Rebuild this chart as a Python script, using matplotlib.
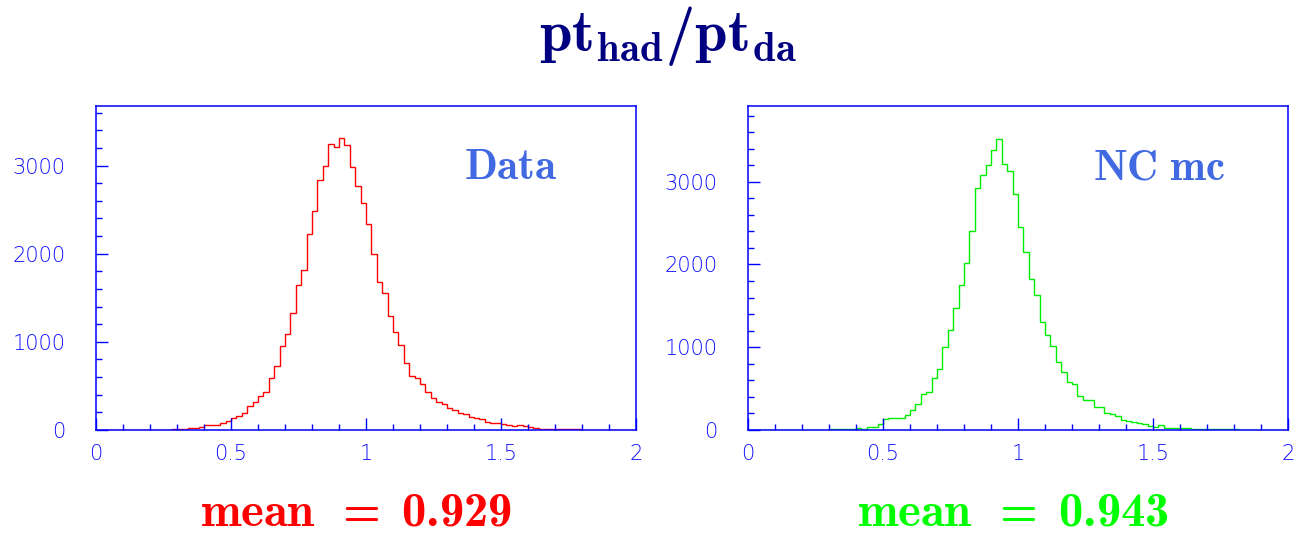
import numpy as np
import matplotlib
matplotlib.use("Agg")
import matplotlib.pyplot as plt
from matplotlib.ticker import MultipleLocator

plt.rcParams['mathtext.fontset'] = 'custom'
plt.rcParams['mathtext.rm'] = 'cmb10'
plt.rcParams['mathtext.bf'] = 'cmb10'
plt.rcParams['mathtext.it'] = 'cmb10'
plt.rcParams['mathtext.default'] = 'rm'

# ---------------- data ----------------
bin_edges = np.linspace(0.0, 2.0, 101)

data_counts = [
    0, 0, 0, 0, 0, 2, 2, 2, 2, 2,
    4, 4, 4, 4, 8, 8, 15, 20, 23, 34,
    53, 53, 53, 83, 100, 133, 159, 197, 277, 322,
    390, 428, 587, 731, 958, 1087, 1330, 1648, 1811, 2224,
    2481, 2841, 3000, 3239, 3212, 3307, 3231, 2985, 2765, 2572,
    2337, 2000, 1674, 1553, 1295, 1114, 966, 758, 614, 587,
    523, 436, 367, 314, 295, 246, 227, 189, 182, 152,
    133, 125, 95, 83, 76, 68, 53, 49, 53, 45,
    38, 23, 15, 15, 12, 10, 8, 8, 6, 6,
    5, 5, 4, 4, 3, 3, 3, 2, 2, 2,
]

mc_counts = [
    0, 0, 0, 0, 0, 0, 2, 2, 2, 2,
    3, 3, 4, 5, 6, 8, 8, 8, 8, 8,
    20, 12, 40, 40, 73, 129, 149, 141, 141, 182,
    242, 311, 432, 464, 634, 735, 1001, 1211, 1478, 1756,
    2019, 2402, 2927, 3084, 3205, 3383, 3520, 3218, 3125, 2850,
    2451, 2152, 1825, 1627, 1300, 1150, 1009, 820, 706, 585,
    553, 416, 363, 363, 274, 274, 202, 190, 174, 121,
    109, 93, 81, 69, 52, 40, 60, 24, 24, 24,
    30, 28, 15, 15, 15, 15, 15, 12, 12, 12,
    12, 6, 6, 6, 6, 6, 4, 4, 4, 4,
]

ylims = [3675, 3915]
y_major = [0, 1000, 2000, 3000]
x_major = [0, 0.5, 1, 1.5, 2]
x_major_labels = ["0", "0.5", "1", "1.5", "2"]

# ---------------- figure ----------------
W, H = 1306, 534
fig = plt.figure(figsize=(W / 100, H / 100), dpi=100)

axis_blue = '#0000ff'
tick_text = '#1010ff'
label_blue = '#4169e1'

def px_axes(x0, y0, x1, y1):
    return fig.add_axes([x0 / W, 1 - y1 / H, (x1 - x0) / W, (y1 - y0) / H])

axes = [px_axes(96, 106, 636, 430), px_axes(748, 106, 1288, 430)]
series = [(data_counts, '#ff0000'), (mc_counts, '#00ee00')]

for ax, (counts, col), ylim in zip(axes, series, ylims):
    ax.stairs(counts, bin_edges, color=col, lw=1.0, baseline=0)
    ax.set_xlim(0, 2)
    ax.set_ylim(0, ylim)
    for s in ax.spines.values():
        s.set_color(axis_blue)
        s.set_linewidth(1.1)
    ax.set_xticks(x_major)
    ax.set_xticklabels(x_major_labels)
    ax.set_yticks(y_major)
    ax.set_yticklabels([str(v) for v in y_major])
    ax.xaxis.set_minor_locator(MultipleLocator(0.1))
    ax.yaxis.set_minor_locator(MultipleLocator(200))
    ax.tick_params(axis='both', which='both', direction='in', color=axis_blue,
                   top=False, right=False, labelcolor=tick_text)
    ax.tick_params(axis='both', which='major', length=8.5, width=1.0)
    ax.tick_params(axis='both', which='minor', length=4.3, width=1.0)
    ax.tick_params(axis='x', which='major', pad=10)
    ax.tick_params(axis='y', which='major', pad=22)
    for lab in ax.get_xticklabels() + ax.get_yticklabels():
        lab.set_fontfamily(['DejaVu Sans'])
        lab.set_fontweight(200)
        lab.set_fontsize(15)

# title
fig.text(668 / W, 1 - 51 / H, r'$pt_{had}/pt_{da}$', color='#000080',
         fontsize=42, ha='center', va='baseline')

# panel labels
fig.text(511 / W, 1 - 179 / H, r'$Data$', color=label_blue,
         fontsize=31, ha='center', va='baseline')
fig.text(1159 / W, 1 - 179 / H, r'$NC\ mc$', color=label_blue,
         fontsize=31, ha='center', va='baseline')

# means
fig.text(356.5 / W, 1 - 525 / H, r'$mean\ \,=\ 0.929$', color='#ff0000',
         fontsize=35, ha='center', va='baseline')
fig.text(1012.5 / W, 1 - 525 / H, r'$mean\ \,=\ 0.943$', color='#00ff00',
         fontsize=35, ha='center', va='baseline')

fig.savefig('out.png', dpi=100)
